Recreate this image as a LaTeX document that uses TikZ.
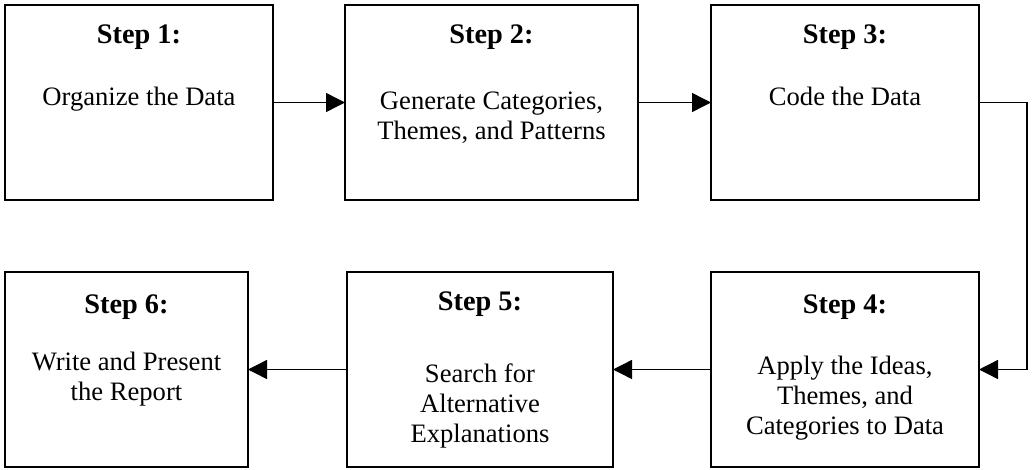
\documentclass[tikz,border=0pt]{standalone}
\usepackage{fontspec}
\setmainfont{Liberation Serif}
\usetikzlibrary{arrows.meta,calc}
\begin{document}
\begin{tikzpicture}[x=1pt,y=-1pt,
  stepbox/.style={draw, line width=1.5pt, inner sep=0pt, outer sep=0pt, minimum height=195pt},
  steptitle/.style={anchor=base, inner sep=0pt, font=\fontsize{28.3}{30}\selectfont\bfseries},
  stepbody/.style={anchor=base, inner sep=0pt, align=center, font=\fontsize{26.6}{30}\selectfont},
  flow/.style={line width=1.4pt, -{Triangle[length=19pt,width=19pt]}}]
  \useasboundingbox (0,0) rectangle (1033,469);

  % top row
  \node[stepbox, minimum width=268pt] (b1) at (139,102.5) {};
  \node[stepbox, minimum width=293pt] (b2) at (491.5,102.5) {};
  \node[stepbox, minimum width=268pt] (b3) at (845,102.5) {};
  % bottom row
  \node[stepbox, minimum width=268pt] (b4) at (845,369.5) {};
  \node[stepbox, minimum width=266pt] (b5) at (480,369.5) {};
  \node[stepbox, minimum width=243pt] (b6) at (126.5,369.5) {};

  % titles
  \node[steptitle] (t1) at ($(b1.north)+(0,38)$) {Step 1:};
  \node[steptitle] (t2) at ($(b2.north)+(0,38)$) {Step 2:};
  \node[steptitle] (t3) at ($(b3.north)+(0,38)$) {Step 3:};
  \node[steptitle] (t4) at ($(b4.north)+(0,41)$) {Step 4:};
  \node[steptitle] (t5) at ($(b5.north)+(0,38)$) {Step 5:};
  \node[steptitle] (t6) at ($(b6.north)+(0,41)$) {Step 6:};

  % descriptions (anchored on the baseline of their last line)
  \node[stepbody] (d1) at ($(b1.north)+(0,100)$) {Organize the Data};
  \node[stepbody] (d2) at ($(b2.north)+(0,134)$) {Generate Categories,\\Themes, and Patterns};
  \node[stepbody] (d3) at ($(b3.north)+(0,100)$) {Code the Data};
  \node[stepbody] (d4) at ($(b4.north)+(0,162)$) {Apply the Ideas,\\Themes, and\\Categories to Data};
  \node[stepbody] (d5) at ($(b5.north)+(0,170)$) {Search for\\Alternative\\Explanations};
  \node[stepbody] (d6) at ($(b6.north)+(0,128)$) {Write and Present\\the Report};

  % connectors
  \coordinate (turn) at (1027,369.5);
  \draw[flow] (b1.east) -- (b2.west);
  \draw[flow] (b2.east) -- (b3.west);
  \draw[flow] (b3.east) -| (turn) -- (b4.east);
  \draw[flow] (b4.west) -- (b5.east);
  \draw[flow] (b5.west) -- (b6.east);
\end{tikzpicture}
\end{document}
